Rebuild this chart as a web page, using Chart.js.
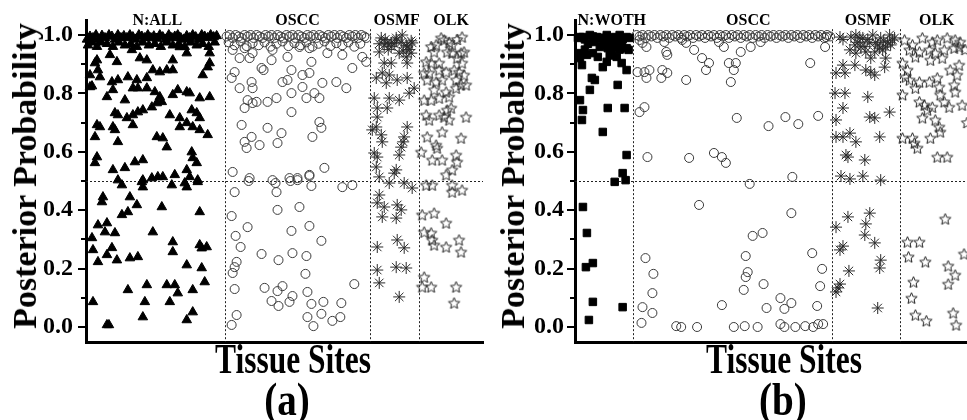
<!DOCTYPE html>
<html><head><meta charset="utf-8">
<script src="https://cdn.jsdelivr.net/npm/chart.js@4.4.1/dist/chart.umd.min.js"></script>
<style>
html,body{margin:0;padding:0;background:#fff;width:967px;height:420px;overflow:hidden;position:relative;font-family:'Liberation Serif','Times New Roman',serif;}
canvas{position:absolute;top:0;}
#ca{left:0}
#cb{left:489px}
.t{position:absolute;font-weight:bold;white-space:nowrap;line-height:1;color:#000;font-family:'Liberation Serif','Times New Roman',serif;}
</style></head><body>
<canvas id="ca" width="490" height="349"></canvas>
<canvas id="cb" width="490" height="349"></canvas>
<div class="t" style="left:25px;top:176px;font-size:34px;transform:translate(-50%,-50%) rotate(-90deg)">Posterior Probability</div>
<div class="t" style="left:513px;top:176px;font-size:34px;transform:translate(-50%,-50%) rotate(-90deg)">Posterior Probability</div>
<div class="t" style="left:293px;top:359px;font-size:42px;transform:translate(-50%,-50%) scaleX(0.75)">Tissue Sites</div>
<div class="t" style="left:784px;top:359px;font-size:42px;transform:translate(-50%,-50%) scaleX(0.75)">Tissue Sites</div>
<div class="t" style="left:287px;top:400px;font-size:46px;transform:translate(-50%,-50%) scaleX(0.85)">(a)</div>
<div class="t" style="left:783px;top:400px;font-size:46px;transform:translate(-50%,-50%) scaleX(0.85)">(b)</div>
<script>
// ---------- data ----------
const yTickValues = [0, 0.2, 0.4, 0.6, 0.8, 1.0];
const yMinorTickValues = [0.1, 0.3, 0.5, 0.7, 0.9];
const threshold = 0.5;
const dividerTop = 1.02;
const categoriesA = ['N:ALL', 'OSCC', 'OSMF', 'OLK'];
const categoriesB = ['N:WOTH', 'OSCC', 'OSMF', 'OLK'];
const groupEdgesA = [139, 285, 334];
const siteCountA = 398;
const groupEdgesB = [58, 259, 327];
const siteCountB = 400;

// panel (a): [tissue site index, posterior probability]
const nAll = [[1,.985],[4,.995],[7,.99],[10,1],[13,.985],[16,.998],[19,.99],[23,1],[26,.995],[29,.985],[32,1],[35,.99],[38,.997],[41,.99],[44,1],[47,.993],[50,.985],[53,1],[56,.995],[59,.99],[62,1],[65,.99],[68,.996],[71,.988],[74,1],[77,.993],[80,.985],[83,1],[86,.99],[89,.995],[92,1],[95,.99],[98,.985],[101,.997],[104,.99],[107,1],[110,.993],[113,.985],[116,1],[119,.995],[122,.99],[125,1],[128,.993],[131,.997],
[2,.965],[6,.975],[11,.96],[15,.975],[21,.97],[27,.96],[33,.975],[39,.965],[45,.97],[51,.96],[57,.975],[63,.965],[69,.97],[75,.96],[81,.975],[87,.965],[93,.97],[99,.96],[105,.975],[111,.965],[117,.97],[123,.96],[129,.975],
[11,.914],[24,.932],[31,.908],[46,.949],[54,.921],[61,.914],[87,.914],[94,.959],[124,.938],[101,.938],[9,.904],
[4,.863],[12,.88],[14,.856],[4,.822],[6,.825],
[26,.839],[32,.846],[42,.856],[51,.846],[61,.853],[67,.88],[74,.873],[81,.88],[87,.88],[117,.863],[122,.89],[124,.904],
[21,.788],[27,.812],[39,.777],[47,.818],[52,.818],[61,.818],[69,.805],[74,.788],[87,.795],[92,.812],[101,.805],[104,.801],[114,.784],[124,.788],
[29,.733],[32,.726],[41,.716],[47,.726],[52,.736],[57,.743],[66,.753],[71,.767],[76,.771],[84,.726],[94,.716],[106,.743],[111,.733],[114,.716],[101,.699],
[11,.692],[14,.685],[9,.651],[27,.685],[29,.675],[32,.634],[47,.692],[71,.651],[77,.647],[81,.616],[94,.685],[107,.685],[114,.675],[122,.658],
[11,.582],[9,.562],[27,.538],[39,.545],[49,.565],[57,.572],[106,.599],[111,.562],[107,.579],
[36,.486],[57,.503],[66,.51],[72,.514],[77,.514],[89,.521],[101,.538],[104,.514],[112,.503],[86,.486],[99,.493],[56,.497],[57,.479],[101,.479],[112,.497],[32,.503],
[17,.445],[16,.428],[12,.349],[21,.356],[19,.325],[29,.322],[26,.271],[6,.305],[7,.264],[12,.223],[21,.247],[31,.229],[36,.384],[44,.445],[42,.394],[51,.418],[44,.236],[52,.24],[67,.325],[76,.411],[87,.291],[87,.257],[114,.394],[114,.281],[121,.274],[116,.27],[101,.212],[116,.202],[7,.086],[21,.007],[23,.007],[42,.127],[61,.144],[59,.086],[57,.034],[81,.144],[89,.144],[84,.086],[92,.116],[107,.127],[119,.154],[107,.051],[101,.024]];

const osccA = [[141,.995],[144,1],[147,.99],[150,1],[153,.995],[156,.99],[159,1],[162,.995],[165,1],[168,.99],[171,1],[174,.995],[177,.99],[180,1],[183,.995],[186,1],[189,.99],[192,1],[195,.995],[198,.99],[201,1],[204,.995],[207,1],[210,.99],[213,1],[216,.995],[219,.99],[222,1],[225,.995],[228,1],[231,.99],[234,1],[237,.995],[240,.99],[243,1],[246,.995],[249,1],[252,.99],[255,1],[258,.995],[261,.99],[264,1],[267,.995],[270,1],[273,.99],[276,1],[279,.995],[281,.99],
[143,.975],[149,.965],[155,.978],[161,.962],[167,.972],[173,.965],[179,.975],[185,.96],[191,.97],[197,.978],[203,.962],[209,.972],[215,.965],[221,.975],[227,.96],[233,.97],[239,.978],[245,.962],[251,.972],[257,.965],[263,.975],[269,.96],[275,.97],
[147,.949],[159,.955],[154,.921],[167,.938],[164,.921],[186,.914],[187,.949],[202,.925],[214,.959],[224,.955],[242,.938],[257,.932],[277,.925],[281,.908],[176,.887],[178,.88],[206,.88],[217,.863],[224,.87],[226,.908],[267,.887],[149,.873],[146,.853],[166,.839],[167,.818],[197,.839],[202,.846],[217,.822],[237,.836],[251,.839],[261,.818],[154,.818],[162,.777],[159,.75],[167,.767],[171,.771],[182,.771],[191,.784],[206,.801],[221,.784],[229,.801],[234,.784],[206,.736],[156,.692],[182,.682],[196,.664],[234,.702],[236,.682],[227,.651],[159,.634],[166,.651],[161,.613],[174,.623],[192,.63],[147,.531],[164,.51],[187,.503],[204,.51],[212,.51],[224,.521],[239,.545],
[149,.462],[146,.38],[162,.342],[150,.312],[155,.274],[151,.223],[149,.205],[147,.185],[149,.13],[151,.041],[146,.007],[192,.401],[214,.411],[206,.329],[224,.346],[236,.295],[176,.25],[193,.229],[207,.253],[221,.243],[220,.182],[179,.134],[197,.14],[192,.123],[186,.089],[193,.072],[204,.086],[207,.106],[222,.12],[226,.079],[238,.086],[222,.034],[228,.003],[236,.045],[247,.021],[255,.034],[256,.082],[269,.147],[163,.5],[190,.493],[191,.462],[205,.5],[212,.503],[226,.483],[257,.479],[267,.486],[224,.517]];

const osmfA = [[294,.97],[300,.985],[306,.96],[311,.99],[316,.975],[321,.965],[326,.98],[303,.95],[318,.945],[296,.99],[309,.97],[324,.95],
[302,.973],[299,.966],[306,.973],[311,.983],[317,1],[322,.959],[327,.973],[326,.938],[321,.925],[314,.938],[294,.942],[299,.904],[306,.904],[322,.904],[297,.87],[291,.853],[304,.863],[312,.846],[322,.853],[301,.836],[329,.818],[289,.784],[304,.784],[314,.777],[324,.801],[292,.75],[302,.75],[292,.719],[287,.675],[291,.685],[296,.658],[322,.685],[319,.651],[316,.616],[318,.634],[297,.634],[289,.596],[292,.582],[291,.548],[314,.589],[311,.538],[309,.527],[294,.514],[304,.493],[319,.493],[327,.476],[294,.452],[292,.425],[299,.411],[312,.418],[316,.401],[297,.377],[311,.373],[292,.274],[312,.298],[319,.271],[292,.195],[294,.151],[311,.205],[321,.202],[314,.103]];

const olkA = [[356,.99],[364,.975],[372,.985],[346,.96],
[351,.966],[359,.983],[367,.966],[377,.993],[349,.942],[362,.942],[367,.938],[376,.938],[379,.942],[341,.908],[346,.904],[354,.904],[372,.921],[377,.904],[339,.87],[344,.87],[354,.88],[361,.873],[369,.88],[374,.873],[379,.863],[342,.846],[351,.839],[357,.846],[371,.846],[376,.829],[381,.829],[349,.812],[361,.805],[371,.818],[339,.777],[346,.777],[354,.784],[364,.788],[341,.726],[344,.709],[354,.726],[359,.719],[362,.743],[366,.75],[364,.709],[381,.719],[357,.668],[342,.651],[376,.647],[336,.599],[351,.623],[352,.613],[347,.572],[357,.572],[371,.589],[372,.565],[367,.538],[361,.521],[341,.486],[347,.486],[367,.486],[367,.462],[377,.469],[337,.384],[349,.39],[361,.356],[339,.325],[346,.322],[347,.298],[349,.281],[361,.274],[374,.298],[376,.257],[339,.171],[337,.137],[346,.137],[371,.137],[369,.082]];

// panel (b)
const nWoth = [[5,.993],[8,.993],[15,1],[22,.993],[27,.99],[32,1],[38,.993],[45,1],[52,.993],[20,.976],[30,.973],[37,.976],[43,.973],[25,.959],[33,.955],[5,.938],[12,.932],[18,.938],[5,.921],[7,.897],[23,.925],[32,.908],[37,.938],[42,.925],[47,.904],[52,.955],[54,.949],[52,.88],[28,.89],[17,.853],[20,.846],[15,.812],[5,.777],[8,.743],[7,.709],[33,.75],[50,.75],[43,.829],[28,.668],[52,.589],[48,.527],[40,.497],[51,.503],[8,.411],[12,.322],[11,.205],[18,.219],[18,.086],[14,.024],[48,.068],
[3,.99],[10,.985],[18,.995],[25,.99],[35,.985],[41,.99],[48,.985],[55,.99],[13,.97],[28,.965],[40,.96],[47,.97],[10,.95],[35,.93],[45,.95]];

const osccB = [[62,1],[65,.995],[68,1],[71,.99],[74,1],[77,.995],[80,1],[83,.99],[86,1],[89,.995],[92,1],[95,.99],[98,1],[101,.995],[104,1],[107,.99],[110,1],[113,.995],[116,1],[119,.99],[122,1],[125,.995],[128,1],[131,.99],[134,1],[137,.995],[140,1],[143,.99],[146,1],[149,.995],[152,1],[155,.99],[158,1],[161,.995],[164,1],[167,.99],[170,1],[173,.995],[176,1],[179,.99],[182,1],[185,.995],[188,1],[191,.99],[194,1],[197,.995],[200,1],[203,.99],[206,1],[209,.995],[212,1],[215,.99],[218,1],[221,.995],[224,1],[227,.99],[230,1],[233,.995],[236,1],[239,.99],[242,1],[245,.995],[248,1],[251,.99],[254,1],[257,.995],
[68,.973],[72,.959],[65,.983],[90,.976],[92,.942],[93,.932],[108,.983],[112,.973],[120,.949],[128,.921],[135,.904],[132,.88],[145,.976],[150,.959],[63,.873],[70,.873],[72,.853],[75,.88],[88,.88],[93,.87],[87,.853],[112,.846],[70,.753],[65,.736],[73,.582],[115,.579],[140,.596],[148,.582],[152,.562],[167,.942],[177,.959],[187,.976],[155,.904],[162,.904],[160,.88],[157,.839],[237,.904],[252,.959],[253,.993],[163,.716],[195,.688],[212,.719],[225,.695],[245,.723],[176,.49],[219,.514],[218,.39],[125,.418],[71,.236],[79,.182],[78,.116],[68,.068],[78,.048],[67,.014],[102,.003],[107,0],[123,0],[148,.075],[179,.312],[189,.322],[172,.243],[174,.188],[172,.171],[190,.147],[170,.127],[193,.065],[207,.099],[211,.062],[218,.082],[239,.253],[249,.199],[247,.14],[244,.072],[160,0],[171,.003],[184,0],[207,.01],[211,0],[222,0],[232,.003],[240,0],[245,.01],[250,.01]];

const osmfB = [[267,.993],[278,.993],[283,1],[290,.99],[300,1],[308,.99],[317,1],[320,.983],[282,.966],[288,.959],[297,.973],[305,.966],[313,.959],[318,.966],[277,.949],[283,.938],[293,.942],[302,.942],[310,.949],[298,.921],[313,.921],[270,.897],[282,.897],[293,.88],[298,.873],[302,.863],[263,.87],[272,.87],[312,.89],[262,.801],[272,.801],[295,.788],[270,.75],[263,.709],[297,.719],[302,.716],[317,.736],[263,.651],[270,.651],[277,.664],[283,.634],[307,.651],[273,.589],[275,.582],[292,.572],[268,.517],[277,.507],[290,.517],[308,.503],[275,.377],[297,.39],[293,.353],[263,.342],[292,.315],[302,.288],[270,.277],[267,.264],[308,.229],[307,.202],[276,.192],[267,.147],[265,.134],[263,.12],[305,.065],
[287,.99],[295,.985],[303,.975],[311,.98],[322,.99],[270,.985],[292,.96],[307,.955],[285,.975],[315,.975]];

const olkB = [[332,.983],[340,.966],[350,.99],[360,.976],[365,.983],[375,.99],[383,.983],[388,.976],[337,.949],[347,.942],[357,.949],[363,.938],[372,.949],[382,.955],[387,.959],[343,.925],[358,.914],[370,.921],[330,.904],[335,.88],[333,.856],[337,.846],[378,.88],[387,.897],[385,.863],[347,.839],[357,.839],[365,.853],[343,.818],[330,.795],[367,.822],[382,.829],[383,.805],[390,.76],[347,.771],[352,.76],[355,.743],[360,.753],[350,.716],[368,.795],[372,.771],[377,.753],[363,.709],[367,.685],[368,.668],[330,.647],[340,.647],[342,.63],[345,.613],[358,.647],[365,.582],[375,.582],[373,.37],[335,.291],[347,.291],[336,.24],[353,.223],[376,.209],[383,.178],[376,.147],[341,.154],[339,.099],[343,.041],[354,.021],[381,.048],[384,.007],[393,.95],[395,.7],[392,.25]];

// ---------- rendering ----------
Chart.defaults.font.family = "'Liberation Serif','Times New Roman',serif";
Chart.defaults.animation = false;

function openStar(r, color) {
  const s = Math.ceil(r * 2 + 3);
  const c = document.createElement('canvas');
  c.width = s; c.height = s;
  const g = c.getContext('2d');
  g.translate(s / 2, s / 2 + 0.5);
  g.beginPath();
  for (let i = 0; i < 10; i++) {
    const rr = i % 2 === 0 ? r : r * 0.45;
    const a = -Math.PI / 2 + i * Math.PI / 5;
    g.lineTo(rr * Math.cos(a), rr * Math.sin(a));
  }
  g.closePath();
  g.strokeStyle = color; g.lineWidth = 1; g.stroke();
  return c;
}
const starImg = openStar(6, '#222');

const toXY = arr => arr.map(p => ({x: p[0], y: p[1]}));

const styles = {
  triangle: {pointStyle: 'triangle', pointRadius: 5.5, backgroundColor: '#000', borderColor: '#000', borderWidth: 1},
  square: {pointStyle: 'rect', pointRadius: 5.3, backgroundColor: '#000', borderColor: '#000', borderWidth: 1},
  circle: {pointStyle: 'circle', pointRadius: 4.5, backgroundColor: 'rgba(0,0,0,0)', borderColor: '#3a3a3a', borderWidth: 1},
  aster: {pointStyle: 'star', pointRadius: 6, backgroundColor: 'rgba(0,0,0,0)', borderColor: '#2a2a2a', borderWidth: 1},
  star: {pointStyle: starImg, pointRadius: 6, backgroundColor: 'rgba(0,0,0,0)', borderColor: '#222', borderWidth: 1}
};

const decor = {
  id: 'decor',
  beforeDatasetsDraw(chart, args, opts) {
    const {ctx, chartArea: a, scales: {x, y}} = chart;
    ctx.save();
    ctx.setLineDash([2, 2]);
    ctx.lineWidth = 1;
    ctx.strokeStyle = '#222';
    const yh = Math.round(y.getPixelForValue(threshold)) + 0.5;
    ctx.beginPath(); ctx.moveTo(a.left, yh); ctx.lineTo(a.right, yh); ctx.stroke();
    const yt = y.getPixelForValue(dividerTop);
    opts.edges.forEach(e => {
      const px = Math.round(x.getPixelForValue(e)) + 0.5;
      ctx.beginPath(); ctx.moveTo(px, yt); ctx.lineTo(px, a.bottom); ctx.stroke();
    });
    ctx.restore();
  },
  afterDraw(chart, args, opts) {
    const {ctx, chartArea: a, scales: {x, y}} = chart;
    ctx.save();
    ctx.strokeStyle = '#000';
    ctx.lineWidth = 2;
    yTickValues.forEach(v => {
      const py = Math.round(y.getPixelForValue(v));
      ctx.beginPath(); ctx.moveTo(a.left - 8, py); ctx.lineTo(a.left, py); ctx.stroke();
    });
    yMinorTickValues.forEach(v => {
      const py = Math.round(y.getPixelForValue(v));
      ctx.beginPath(); ctx.moveTo(a.left - 5, py); ctx.lineTo(a.left, py); ctx.stroke();
    });
    ctx.fillStyle = '#000';
    ctx.font = "bold 16px 'Liberation Serif','Times New Roman',serif";
    ctx.textAlign = 'center';
    ctx.textBaseline = 'alphabetic';
    opts.names.forEach((n, i) => {
      const lo = i === 0 ? x.min : opts.edges[i - 1];
      const hi = i < opts.edges.length ? opts.edges[i] : x.max;
      const cx = (x.getPixelForValue(lo) + x.getPixelForValue(hi)) / 2 + opts.offsets[i];
      ctx.fillText(n, cx, a.top + 5);
    });
    ctx.restore();
  }
};

function zeroPad(s) { s.paddingTop = 0; s.paddingBottom = 0; s.paddingLeft = 0; s.paddingRight = 0; }

function makeChart(id, sets, siteCount, names, edges, offsets, rightPad, tickPad) {
  new Chart(document.getElementById(id), {
    type: 'scatter',
    data: {datasets: sets.map(s => Object.assign({data: toXY(s[0]), clip: false}, styles[s[1]]))},
    options: {
      responsive: false,
      devicePixelRatio: 1,
      animation: false,
      events: [],
      layout: {padding: {top: 20, left: 0, right: rightPad, bottom: 3}},
      plugins: {legend: {display: false}, tooltip: {enabled: false}, decor: {names, edges, offsets}},
      scales: {
        x: {
          type: 'linear', min: 0, max: siteCount,
          ticks: {display: false},
          grid: {display: false, drawTicks: false},
          border: {display: true, width: 3, color: '#000'},
          afterFit: s => { s.height = 0; zeroPad(s); }
        },
        y: {
          min: -0.0514, max: 1.0514,
          afterBuildTicks: s => { s.ticks = yTickValues.map(v => ({value: v})); },
          ticks: {
            autoSkip: false, padding: tickPad, color: '#000',
            font: {size: 24, weight: 'bold', family: "'Liberation Serif','Times New Roman',serif"},
            callback: v => Number(v).toFixed(1)
          },
          grid: {display: false, drawTicks: false},
          border: {display: true, width: 3, color: '#000'},
          afterFit: s => { s.width = 86; zeroPad(s); }
        }
      }
    },
    plugins: [decor]
  });
}

makeChart('ca', [[nAll, 'triangle'], [osccA, 'circle'], [osmfA, 'aster'], [olkA, 'star']],
  siteCountA, categoriesA, groupEdgesA, [2, 0, 2, 0], 6, 13);
makeChart('cb', [[nWoth, 'square'], [osccB, 'circle'], [osmfB, 'aster'], [olkB, 'star']],
  siteCountB, categoriesB, groupEdgesB, [8, 16, 2, 1], 4, 11);
</script>
</body></html>
